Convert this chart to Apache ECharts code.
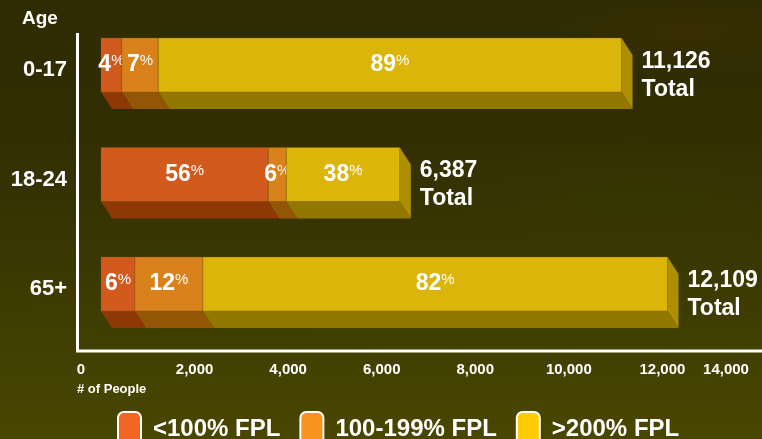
<!DOCTYPE html>
<html>
<head>
<meta charset="utf-8">
<script src="https://cdn.jsdelivr.net/npm/echarts@6/dist/echarts.min.js"></script>
<style>
  html, body { margin: 0; padding: 0; }
  #chart {
    width: 762px; height: 439px;
    background:
      radial-gradient(ellipse 160px 40px at 690px 30px, rgba(70,50,0,0.35), rgba(70,50,0,0) 100%),
      radial-gradient(ellipse 220px 60px at 640px 200px, rgba(55,62,0,0.35), rgba(55,62,0,0) 100%),
      radial-gradient(ellipse 200px 50px at 200px 330px, rgba(60,62,0,0.30), rgba(60,62,0,0) 100%),
      linear-gradient(180deg, #2f2b03 0%, #322e03 30%, #3a3802 60%, #444201 85%, #494600 100%);
  }
</style>
</head>
<body>
<div id="chart"></div>
<script>
// Population by age group, split by federal poverty level (FPL) band
const ageGroups = ['0-17', '18-24', '65+'];
const totals = [11126, 6387, 12109];
const pctBelow100 = [4, 56, 6];
const pct100to199 = [7, 6, 12];
const pctAbove200 = [89, 38, 82];
const bandNames = ['<100% FPL', '100-199% FPL', '>200% FPL'];
const axisTicks = [0, 2000, 4000, 6000, 8000, 10000, 12000, 14000];

const bandPcts = [pctBelow100, pct100to199, pctAbove200];

// Face colours for each FPL band: front, underside, right end
const faceColors = [
  { front: '#d35a1d', under: '#8e3905', side: '#8e3905' },
  { front: '#d9821b', under: '#935506', side: '#935506' },
  { front: '#dcb50b', under: '#927800', side: '#ad8f04' }
];
const legendColors = ['#f26524', '#f7941e', '#ffcb05'];

const FRONT_H = 54;   // height of the front face
const DEPTH_X = 11;   // extrusion offset, x
const DEPTH_Y = 17;   // extrusion offset, y
const LIFT = 5;       // front face sits slightly above the band centre

const font = 'Liberation Sans, Arial, sans-serif';

// Build [category, start, end, pct, total] rows for each band (stacked left to right)
function bandRows(b) {
  return ageGroups.map((g, i) => {
    let before = 0;
    for (let k = 0; k < b; k++) before += bandPcts[k][i];
    const start = totals[i] * before / 100;
    const end = totals[i] * (before + bandPcts[b][i]) / 100;
    return [i, start, end, bandPcts[b][i], totals[i]];
  });
}

function renderBar(params, api) {
  const b = params.seriesIndex;
  const cat = api.value(0);
  const p0 = api.coord([api.value(1), cat]);
  const p1 = api.coord([api.value(2), cat]);
  const pct = api.value(3);
  const total = api.value(4);
  const cy = p0[1] - LIFT;
  const top = cy - FRONT_H / 2;
  const bot = cy + FRONT_H / 2;
  const x0 = p0[0], x1 = p1[0];
  const col = faceColors[b];
  const children = [
    {
      type: 'polygon',
      shape: { points: [[x0, bot], [x1, bot], [x1 + DEPTH_X, bot + DEPTH_Y], [x0 + DEPTH_X, bot + DEPTH_Y]] },
      style: { fill: col.under }
    },
    {
      type: 'rect',
      shape: { x: x0, y: top, width: x1 - x0, height: FRONT_H },
      style: { fill: col.front, stroke: 'rgba(120,90,0,0.35)', lineWidth: 1 }
    },
    {
      type: 'text',
      x: (x0 + x1) / 2,
      y: cy,
      style: {
        text: '{n|' + pct + '}{p|%}',
        align: 'center',
        verticalAlign: 'middle',
        rich: {
          n: { fontSize: 23, fontWeight: 'bold', fill: '#fff', fontFamily: font, lineHeight: 23 },
          p: { fontSize: 15, fontWeight: 'normal', fill: '#fff', fontFamily: font, lineHeight: 17, verticalAlign: 'top' }
        }
      }
    }
  ];
  if (b === bandPcts.length - 1) {
    children.push({
      type: 'polygon',
      shape: { points: [[x1, top], [x1 + DEPTH_X, top + DEPTH_Y], [x1 + DEPTH_X, bot + DEPTH_Y], [x1, bot]] },
      style: { fill: col.side }
    });
    children.push({
      type: 'text',
      x: x1 + DEPTH_X + 9,
      y: cy + DEPTH_Y / 2 + 2,
      style: {
        text: total.toLocaleString('en-US') + '\nTotal',
        fill: '#fff',
        fontSize: 23,
        fontWeight: 'bold',
        fontFamily: font,
        lineHeight: 28,
        align: 'left',
        verticalAlign: 'middle'
      }
    });
  }
  return { type: 'group', children: children };
}

const chart = echarts.init(document.getElementById('chart'), null, { renderer: 'canvas' });

chart.setOption({
  backgroundColor: 'transparent',
  animation: false,
  textStyle: { fontFamily: font },
  // Heading of the category axis
  title: {
    text: 'Age',
    left: 22,
    top: 9,
    padding: 0,
    textStyle: { color: '#fff', fontSize: 19, fontWeight: 'bold', fontFamily: font }
  },
  grid: { left: 101, right: 6, top: 15.25, bottom: 95.25, containLabel: false },
  xAxis: {
    type: 'value',
    min: axisTicks[0],
    max: axisTicks[axisTicks.length - 1],
    interval: axisTicks[1] - axisTicks[0],
    splitLine: { show: false },
    axisLine: { show: false },
    axisTick: { show: false },
    axisLabel: {
      margin: 19,
      color: '#fff',
      fontSize: 15,
      fontWeight: 'bold',
      fontFamily: font,
      formatter: function (v) {
        const s = v.toLocaleString('en-US');
        if (v === axisTicks[0]) return '{lo|' + s + '}';
        if (v === axisTicks[axisTicks.length - 1]) return '{hi|' + s + '}';
        return s;
      },
      rich: {
        lo: { color: '#fff', fontSize: 15, fontWeight: 'bold', fontFamily: font, padding: [0, 40, 0, 0] },
        hi: { color: '#fff', fontSize: 15, fontWeight: 'bold', fontFamily: font, padding: [0, 60, 0, 0] }
      }
    },
    name: '# of People',
    nameLocation: 'start',
    nameGap: 24,
    nameTextStyle: {
      color: '#fff', fontSize: 13, fontWeight: 'bold', fontFamily: font,
      align: 'left', verticalAlign: 'top', padding: [39, 0, 0, 0]
    }
  },
  yAxis: {
    type: 'category',
    data: ageGroups,
    inverse: true,
    offset: 23,
    axisLine: { show: false },
    axisTick: { show: false },
    axisLabel: { margin: 11, color: '#fff', fontSize: 22, fontWeight: 'bold', fontFamily: font }
  },
  legend: {
    left: 117,
    top: 411,
    padding: 0,
    itemWidth: 23,
    itemHeight: 34,
    itemGap: 19,
    icon: 'roundRect',
    textStyle: { color: '#fff', fontSize: 24, fontWeight: 'bold', fontFamily: font, padding: [0, 0, 0, 7] },
    data: bandNames.map((n, i) => ({
      name: n,
      itemStyle: { color: legendColors[i], borderColor: '#fff', borderWidth: 2 }
    }))
  },
  graphic: [
    { type: 'line', z: 10, shape: { x1: 77.5, y1: 33, x2: 77.5, y2: 352 }, style: { stroke: '#fff', lineWidth: 3 } },
    { type: 'line', z: 10, shape: { x1: 76, y1: 351, x2: 762, y2: 351 }, style: { stroke: '#fff', lineWidth: 3 } }
  ],
  series: bandNames.map((n, b) => ({
    name: n,
    type: 'custom',
    color: legendColors[b],
    renderItem: renderBar,
    encode: { x: [1, 2], y: 0 },
    data: bandRows(b)
  }))
});
</script>
</body>
</html>
